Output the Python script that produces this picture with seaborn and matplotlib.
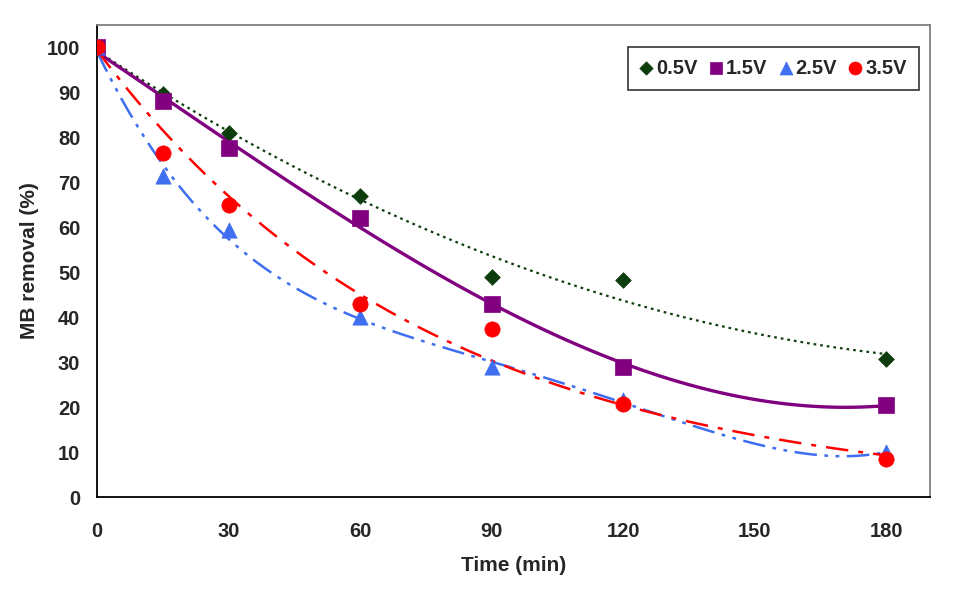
import matplotlib
matplotlib.use("Agg")
import matplotlib.pyplot as plt
import seaborn as sns
import pandas as pd
import numpy as np

time_min = [0, 15, 30, 60, 90, 120, 180]
v05 = [100, 89.5, 81, 67, 49, 48.3, 30.8]
v15 = [100, 88, 77.5, 62, 43, 29, 20.5]
v25 = [100, 71.3, 59.3, 40, 29, 21.5, 10]
v35 = [100, 76.5, 65, 43, 37.3, 20.7, 8.5]
series_names = ["0.5V", "1.5V", "2.5V", "3.5V"]
x_ticks = [0, 30, 60, 90, 120, 150, 180]
y_ticks = [0, 10, 20, 30, 40, 50, 60, 70, 80, 90, 100]

sns.set_style("white")
plt.rcParams['font.family'] = ['Liberation Sans', 'DejaVu Sans']
plt.rcParams['font.weight'] = 'bold'

fig = plt.figure(figsize=(9.6, 5.89), dpi=100)
ax = fig.add_axes([0.101, 0.156, 0.868, 0.802])

# trendline type per series: polynomial order, or "exp" (Excel-style exponential)
styles = [
    dict(color="#0d3d0d", marker="D", ms=8, ls=(0, (1.2, 1.8)), lw=1.6, fit=2),
    dict(color="#800080", marker="s", ms=11, ls="-", lw=2.4, fit=3),
    dict(color="#3f6ff0", marker="^", ms=11, ls=(0, (9, 3, 1.5, 3, 1.5, 3)), lw=1.8, fit=4),
    dict(color="#ff0000", marker="o", ms=11, ls=(0, (9, 4, 2, 4)), lw=1.8, fit="exp"),
]
values = [v05, v15, v25, v35]

for name, vals, st in zip(series_names, values, styles):
    df = pd.DataFrame({"t": time_min, "r": vals})
    if st["fit"] == "exp":
        k, lna = np.polyfit(df["t"], np.log(df["r"]), 1)
        tt = np.linspace(min(time_min), max(time_min), 200)
        fit_df = pd.DataFrame({"t": tt, "r": np.exp(lna + k * tt)})
        sns.lineplot(data=fit_df, x="t", y="r", ax=ax, color=st["color"],
                     linestyle=st["ls"], lw=st["lw"])
    else:
        sns.regplot(data=df, x="t", y="r", order=st["fit"], ci=None, scatter=False, ax=ax,
                    line_kws=dict(color=st["color"], ls=st["ls"], lw=st["lw"]), truncate=True)

for name, vals, st in zip(series_names, values, styles):
    df = pd.DataFrame({"t": time_min, "r": vals})
    sns.scatterplot(data=df, x="t", y="r", ax=ax, marker=st["marker"], s=st["ms"] ** 2,
                    color=st["color"], edgecolor=st["color"], linewidth=0.5, label=name, zorder=5)

ax.set_xlim(0, 190)
ax.set_ylim(0, 105)
ax.set_xticks(x_ticks)
ax.set_yticks(y_ticks)
ax.tick_params(axis="both", direction="in", length=5, width=1, labelsize=14.5)
ax.tick_params(axis="x", pad=18)
ax.tick_params(axis="y", pad=12)
for lab in ax.get_xticklabels() + ax.get_yticklabels():
    lab.set_fontweight("bold")
ax.set_xlabel("Time (min)", fontsize=15, fontweight="bold", labelpad=11)
ax.set_ylabel("MB removal (%)", fontsize=15, fontweight="bold", labelpad=5.5)

ax.spines["left"].set_color("black")
ax.spines["bottom"].set_color("black")
ax.spines["top"].set_color("#808080")
ax.spines["right"].set_color("#808080")
for sp in ax.spines.values():
    sp.set_linewidth(1.3)

leg = ax.legend(loc="upper right", ncol=4, frameon=True, fancybox=False,
                prop=dict(weight="bold", size=14.5), handletextpad=0.2, columnspacing=0.6,
                handlelength=0.6, borderpad=0.6, bbox_to_anchor=(0.9985, 0.975), markerscale=0.85)
leg.get_frame().set_edgecolor("black")
leg.get_frame().set_linewidth(1.2)

fig.savefig("out.png", dpi=100)
